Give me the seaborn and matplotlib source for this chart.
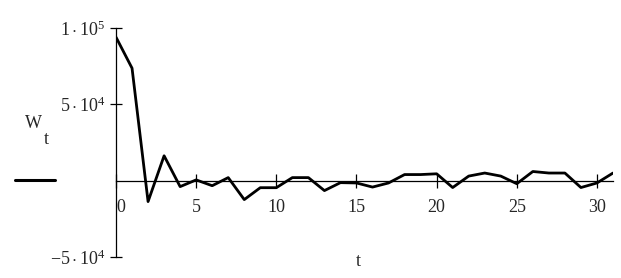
import numpy as np
import pandas as pd
import matplotlib
matplotlib.use("Agg")
import matplotlib.pyplot as plt
from matplotlib.lines import Line2D
import seaborn as sns

# values
t = list(range(32))
w = [94000, 73700, -13700, 16300, -3900, 500, -3300, 2000, -12400, -4600,
     -4600, 2000, 2000, -6500, -1300, -1500, -4200, -1500, 4000, 4000,
     4500, -4500, 3000, 5000, 3000, -2000, 6000, 5000, 5000, -4500,
     -1500, 5000]
xticks = [0, 5, 10, 15, 20, 25, 30]
yticks = [-50000, 50000, 100000]
ylabels = [r"$\mathrm{-5\cdot10^{4}}$", r"$\mathrm{5\cdot10^{4}}$", r"$\mathrm{1\cdot10^{5}}$"]

df = pd.DataFrame({"t": t, "W": w})

sns.set_style("white")
plt.rcParams["font.family"] = ["Liberation Serif", "DejaVu Serif"]
plt.rcParams["mathtext.fontset"] = "custom"
plt.rcParams["mathtext.rm"] = "Liberation Serif"
plt.rcParams["mathtext.it"] = "Liberation Serif"

fig = plt.figure(figsize=(6.21, 2.78), dpi=100)
ax = fig.add_axes([116 / 621, 21 / 278, (613 - 116) / 621, (257 - 28) / 278])

sns.lineplot(data=df, x="t", y="W", ax=ax, color="black", linewidth=2.0)

ax.set_xlim(0, 31)
ax.set_ylim(-50000, 100000)

for s in ["top", "right"]:
    ax.spines[s].set_visible(False)
ax.spines["left"].set_position(("data", 0))
ax.spines["bottom"].set_position(("data", 0))
ax.spines["left"].set_linewidth(0.9)
ax.spines["bottom"].set_linewidth(0.9)
ax.spines["left"].set_color("black")
ax.spines["bottom"].set_color("black")

ax.set_xticks(xticks)
ax.set_xticklabels([str(x) for x in xticks], fontsize=13)
ax.set_yticks(yticks)
ax.set_yticklabels(ylabels, fontsize=13)
ax.tick_params(axis="x", bottom=True, direction="inout", length=10, width=0.9, pad=8, color="black")
ax.tick_params(axis="y", left=True, direction="inout", length=9, width=0.9, pad=3, color="black")
ax.get_xticklabels()[0].set_horizontalalignment("left")

ax.set_xlabel("")
ax.set_ylabel("")
fig.text(358 / 621, 1 - 262 / 278, "t", fontsize=13, ha="center", va="center")

# legend sample at left
fig.text(33 / 621, 1 - 124 / 278, "W", fontsize=13, ha="center", va="center")
fig.text(46 / 621, 1 - 139 / 278, "t", fontsize=13, ha="center", va="center")
fig.add_artist(Line2D([15 / 621, 55 / 621], [1 - 180 / 278, 1 - 180 / 278],
                      transform=fig.transFigure, color="black", linewidth=2.2))

fig.savefig("out.png", dpi=100)
